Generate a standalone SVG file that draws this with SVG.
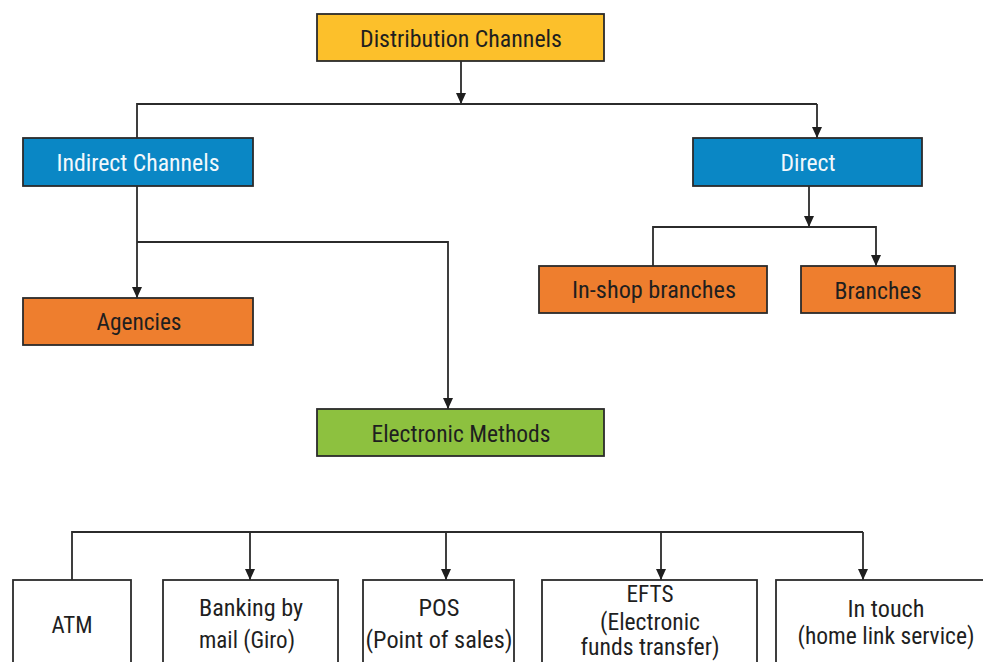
<svg xmlns="http://www.w3.org/2000/svg" width="983" height="662" viewBox="0 0 983 662">
  <style>
    .box { stroke: #2b2b2b; stroke-width: 1.8; }
    .yellow { fill: #fcc02b; }
    .blue { fill: #0a87c5; }
    .orange { fill: #ee7e2e; }
    .green { fill: #8dc13f; }
    .plain { fill: #ffffff; }
    text { font-family: "Roboto Condensed", Roboto, "Liberation Sans", sans-serif; font-size: 23px; fill: #1f1f1f; text-anchor: middle; }
    text.light { fill: #f2f8fc; }
    .conn { fill: none; stroke: #2b2b2b; stroke-width: 1.8; }
  </style>
  <defs>
    <marker id="arrow" viewBox="0 0 11 10" refX="11" refY="5" markerWidth="11" markerHeight="10" markerUnits="userSpaceOnUse" orient="auto">
      <path d="M0,0 L11,5 L0,10 z" fill="#1f1f1f"/>
    </marker>
  </defs>

  <rect width="983" height="662" fill="#ffffff"/>

  <!-- connectors -->
  <g id="connectors">
    <path class="conn" d="M461,61 V104" marker-end="url(#arrow)"/>
    <path class="conn" d="M137,138 V104 H817"/>
    <path class="conn" d="M817,104 V138" marker-end="url(#arrow)"/>
    <path class="conn" d="M137,186 V298" marker-end="url(#arrow)"/>
    <path class="conn" d="M137,242 H448 V409" marker-end="url(#arrow)"/>
    <path class="conn" d="M809,186 V227" marker-end="url(#arrow)"/>
    <path class="conn" d="M653,266 V227 H876 V266" marker-end="url(#arrow)"/>
    <path class="conn" d="M72,580 V532 H863"/>
    <path class="conn" d="M250,532 V580" marker-end="url(#arrow)"/>
    <path class="conn" d="M446,532 V580" marker-end="url(#arrow)"/>
    <path class="conn" d="M661,532 V580" marker-end="url(#arrow)"/>
    <path class="conn" d="M863,532 V580" marker-end="url(#arrow)"/>
  </g>

  <g id="distribution-channels">
    <rect class="box yellow" x="317" y="14" width="287" height="47"/>
    <text x="461" y="47" textLength="202" lengthAdjust="spacingAndGlyphs">Distribution Channels</text>
  </g>

  <g id="indirect-channels">
    <rect class="box blue" x="23" y="138" width="230" height="48"/>
    <text class="light" x="138" y="171" textLength="163" lengthAdjust="spacingAndGlyphs">Indirect Channels</text>
  </g>

  <g id="direct">
    <rect class="box blue" x="693" y="138" width="229" height="48"/>
    <text class="light" x="808" y="171" textLength="55" lengthAdjust="spacingAndGlyphs">Direct</text>
  </g>

  <g id="agencies">
    <rect class="box orange" x="23" y="298" width="230" height="47"/>
    <text x="139" y="330" textLength="85" lengthAdjust="spacingAndGlyphs">Agencies</text>
  </g>

  <g id="in-shop-branches">
    <rect class="box orange" x="539" y="266" width="228" height="47"/>
    <text x="654" y="298" textLength="164" lengthAdjust="spacingAndGlyphs">In-shop branches</text>
  </g>

  <g id="branches">
    <rect class="box orange" x="801" y="266" width="154" height="47"/>
    <text x="878" y="299" textLength="87" lengthAdjust="spacingAndGlyphs">Branches</text>
  </g>

  <g id="electronic-methods">
    <rect class="box green" x="317" y="409" width="287" height="47"/>
    <text x="461" y="442" textLength="179" lengthAdjust="spacingAndGlyphs">Electronic Methods</text>
  </g>

  <g id="atm">
    <rect class="box plain" x="13" y="580" width="118" height="95"/>
    <text x="72" y="633" textLength="41" lengthAdjust="spacingAndGlyphs">ATM</text>
  </g>

  <g id="banking-by-mail">
    <rect class="box plain" x="163" y="580" width="175" height="95"/>
    <text x="251" y="616" textLength="104" lengthAdjust="spacingAndGlyphs">Banking by</text>
    <text x="247" y="648" textLength="96" lengthAdjust="spacingAndGlyphs">mail (Giro)</text>
  </g>

  <g id="pos">
    <rect class="box plain" x="363" y="580" width="151" height="95"/>
    <text x="439" y="616" textLength="41" lengthAdjust="spacingAndGlyphs">POS</text>
    <text x="439" y="648" textLength="147" lengthAdjust="spacingAndGlyphs">(Point of sales)</text>
  </g>

  <g id="efts">
    <rect class="box plain" x="542" y="580" width="215" height="95"/>
    <text x="650" y="602" textLength="47" lengthAdjust="spacingAndGlyphs">EFTS</text>
    <text x="650" y="630" textLength="100" lengthAdjust="spacingAndGlyphs">(Electronic</text>
    <text x="650" y="655" textLength="139" lengthAdjust="spacingAndGlyphs">funds transfer)</text>
  </g>

  <g id="in-touch">
    <rect class="box plain" x="776" y="580" width="215" height="95"/>
    <text x="886" y="617" textLength="77" lengthAdjust="spacingAndGlyphs">In touch</text>
    <text x="886" y="644" textLength="177" lengthAdjust="spacingAndGlyphs">(home link service)</text>
  </g>
</svg>
